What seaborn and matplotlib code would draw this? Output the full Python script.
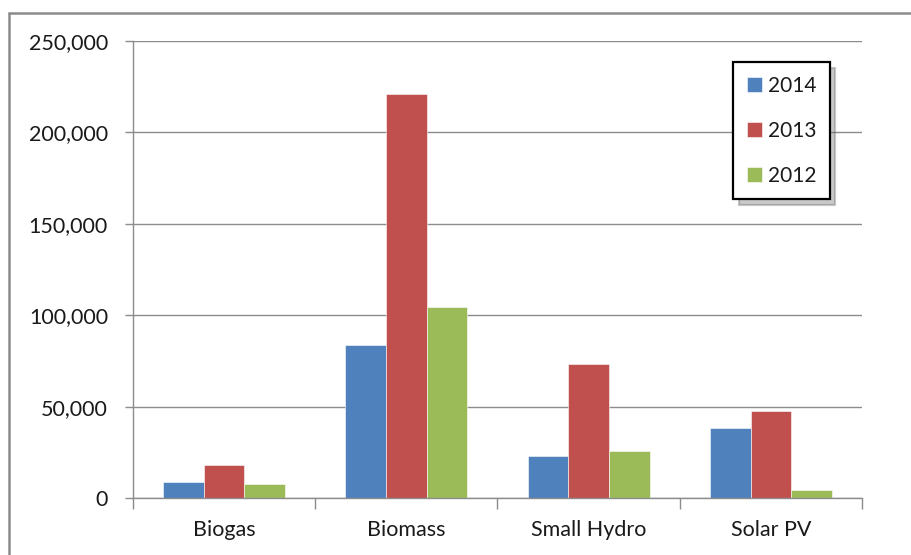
import matplotlib
matplotlib.use("Agg")
import matplotlib.pyplot as plt
from matplotlib.lines import Line2D
from matplotlib.ticker import FuncFormatter, FixedLocator
import seaborn as sns
import pandas as pd

# Installed capacity by technology and year
categories = ["Biogas", "Biomass", "Small Hydro", "Solar PV"]
years = ["2014", "2013", "2012"]
values_2014 = [9000, 83700, 23000, 38300]
values_2013 = [18200, 221000, 73100, 47600]
values_2012 = [7500, 104500, 25700, 4200]
y_ticks = [0, 50000, 100000, 150000, 200000, 250000]

colors = ["#4F81BD", "#C0504D", "#9BBB59"]

rows = []
for year, vals in zip(years, [values_2014, values_2013, values_2012]):
    for cat, v in zip(categories, vals):
        rows.append({"Technology": cat, "Year": year, "Value": v})
df = pd.DataFrame(rows)

sns.set_theme(style="white")
plt.rcParams["font.family"] = ["Lato", "DejaVu Sans"]

fig = plt.figure(figsize=(9.12, 5.55), dpi=100)
ax = fig.add_axes([133 / 912, 1 - 498 / 555, (862 - 133) / 912, (498 - 41) / 555])

sns.barplot(data=df, x="Technology", y="Value", hue="Year",
            order=categories, hue_order=years, palette=colors,
            width=0.67, gap=0, saturation=1, ax=ax,
            edgecolor="white", linewidth=0.4, legend=True)

ax.set_xlim(-0.5, len(categories) - 0.5)
ax.set_ylim(0, 250000)
ax.set_yticks(y_ticks)
ax.yaxis.set_major_formatter(FuncFormatter(lambda v, p: f"{int(v):,}"))
ax.grid(axis="y", color="#8c8c8c", linewidth=1.0)
ax.set_axisbelow(True)
ax.set_xlabel("")
ax.set_ylabel("")

for side in ["top", "right"]:
    ax.spines[side].set_visible(False)
for side in ["left", "bottom"]:
    ax.spines[side].set_color("#8c8c8c")
    ax.spines[side].set_linewidth(1.0)

# Category separators as minor ticks below the axis
ax.xaxis.set_minor_locator(FixedLocator([i - 0.5 for i in range(len(categories) + 1)]))
ax.tick_params(axis="x", which="minor", bottom=True, length=8, width=1.0, color="#8c8c8c")
ax.tick_params(axis="x", which="major", bottom=False, length=0, pad=16,
               labelsize=15.5, labelcolor="#1a1a1a")
ax.tick_params(axis="y", which="major", left=True, length=6, width=1.0,
               color="#8c8c8c", pad=12, labelsize=15.5, labelcolor="#1a1a1a")

# Legend box with drop shadow
handles, labels = ax.get_legend_handles_labels()
ax.legend_.remove()
leg = fig.legend(handles, labels, loc="upper left",
                 bbox_to_anchor=(733 / 912, 1 - 62 / 555),
                 frameon=True, fancybox=False, fontsize=15,
                 handlelength=0.72, handleheight=0.72, handletextpad=0.3,
                 labelspacing=1.2, borderpad=0.65, borderaxespad=0,
                 shadow={"ox": 4, "oy": -4, "color": "#666666", "alpha": 0.35})
leg.get_frame().set_edgecolor("black")
leg.get_frame().set_linewidth(1.6)
for t in leg.get_texts():
    t.set_color("#1a1a1a")

# Outer chart-area border
fig.add_artist(Line2D([9 / 912, 9 / 912], [0, 1 - 13 / 555], transform=fig.transFigure,
                      color="#8c8c8c", linewidth=1.8))
fig.add_artist(Line2D([9 / 912, 1], [1 - 13 / 555, 1 - 13 / 555], transform=fig.transFigure,
                      color="#8c8c8c", linewidth=1.8))

fig.savefig("out.png", dpi=100)
